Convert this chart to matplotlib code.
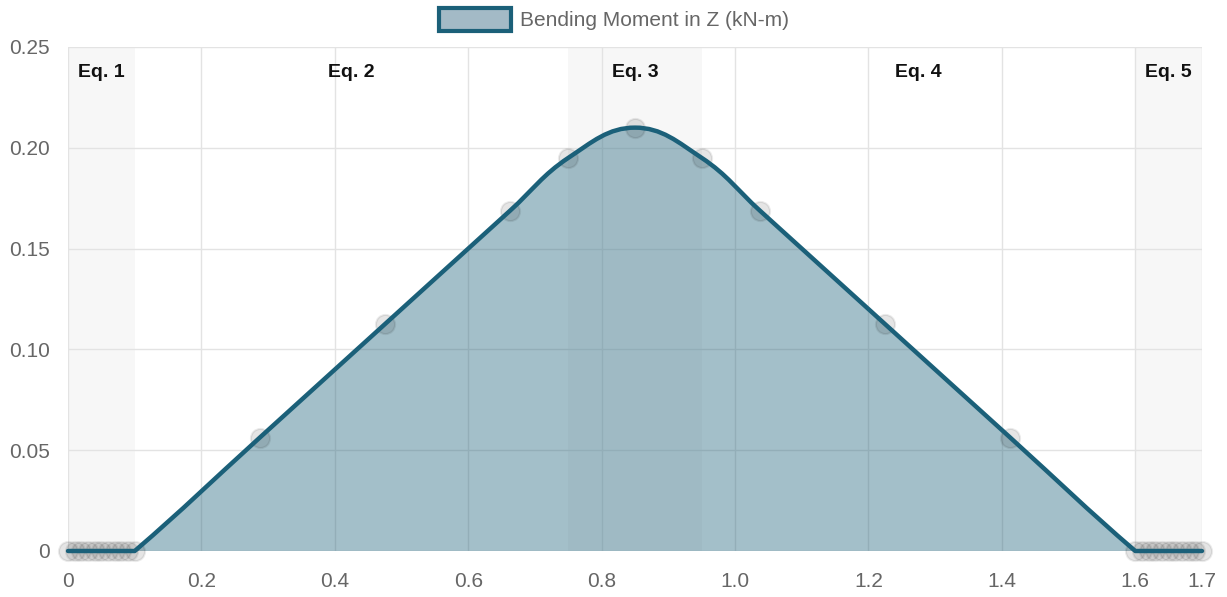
import numpy as np
import matplotlib
matplotlib.use("Agg")
import matplotlib.pyplot as plt
from matplotlib.patches import Rectangle, PathPatch
from matplotlib.path import Path

plt.rcParams['font.family'] = ['Liberation Sans', 'DejaVu Sans']

# ---- data ----
x_vals = [0.0, 0.01, 0.02, 0.03, 0.04, 0.05, 0.06, 0.07, 0.08, 0.09, 0.1,
          0.2875, 0.475, 0.6625, 0.75, 0.85, 0.95, 1.0375, 1.225, 1.4125,
          1.6, 1.61, 1.62, 1.63, 1.64, 1.65, 1.66, 1.67, 1.68, 1.69, 1.7]
moment = [0, 0, 0, 0, 0, 0, 0, 0, 0, 0, 0,
          0.05625, 0.1125, 0.16875, 0.195, 0.21, 0.195, 0.16875, 0.1125, 0.05625,
          0, 0, 0, 0, 0, 0, 0, 0, 0, 0, 0]
regions = [(0.0, 0.1), (0.1, 0.75), (0.75, 0.95), (0.95, 1.6), (1.6, 1.7)]
region_labels = ["Eq. 1", "Eq. 2", "Eq. 3", "Eq. 4", "Eq. 5"]
shaded = [True, False, True, False, True]
x_ticks = [0, 0.2, 0.4, 0.6, 0.8, 1.0, 1.2, 1.4, 1.6, 1.7]
x_tick_labels = ["0", "0.2", "0.4", "0.6", "0.8", "1.0", "1.2", "1.4", "1.6", "1.7"]
y_ticks = [0, 0.05, 0.10, 0.15, 0.20, 0.25]
y_tick_labels = ["0", "0.05", "0.10", "0.15", "0.20", "0.25"]
legend_label = "Bending Moment in Z (kN-m)"

line_color = "#1b6079"
fill_color = "#a3bac6"

W, H = 1227, 597
fig = plt.figure(figsize=(W / 100, H / 100), dpi=100)
L, R, T, B = 68, 1202, 47, 551
ax = fig.add_axes([L / W, 1 - B / H, (R - L) / W, (B - T) / H])
ax.set_xlim(0, 1.7)
ax.set_ylim(0, 0.25)

# bands
for (a, b), s in zip(regions, shaded):
    if s:
        ax.axvspan(a, b, color="#f7f7f7", zorder=0, lw=0)

# grid
for xt in x_ticks:
    ax.axvline(xt, color="#e3e3e3", lw=1, zorder=0.5)
for yt in y_ticks:
    ax.axhline(yt, color="#e3e3e3", lw=1, zorder=0.5)

# bezier spline (tension 0.4), control points computed in pixel space
sx = (R - L) / 1.7
sy = (B - T) / 0.25
px = np.array(x_vals) * sx
py = np.array(moment) * sy
n = len(px)
tension = 0.4
cps = []
for i in range(n):
    p0 = (px[max(i - 1, 0)], py[max(i - 1, 0)])
    p1 = (px[i], py[i])
    p2 = (px[min(i + 1, n - 1)], py[min(i + 1, n - 1)])
    d01 = np.hypot(p1[0] - p0[0], p1[1] - p0[1])
    d12 = np.hypot(p2[0] - p1[0], p2[1] - p1[1])
    tot = d01 + d12
    s01 = d01 / tot if tot else 0
    s12 = d12 / tot if tot else 0
    fa = tension * s01
    fb = tension * s12
    prev_cp = (p1[0] - fa * (p2[0] - p0[0]), max(0.0, p1[1] - fa * (p2[1] - p0[1])))
    next_cp = (p1[0] + fb * (p2[0] - p0[0]), max(0.0, p1[1] + fb * (p2[1] - p0[1])))
    cps.append((prev_cp, next_cp))

verts = [(x_vals[0], moment[0])]
codes = [Path.MOVETO]
for i in range(n - 1):
    c1 = cps[i][1]
    c2 = cps[i + 1][0]
    verts += [(c1[0] / sx, c1[1] / sy), (c2[0] / sx, c2[1] / sy), (x_vals[i + 1], moment[i + 1])]
    codes += [Path.CURVE4] * 3
line_path = Path(verts, codes)

fill_verts = verts + [(x_vals[-1], 0), (x_vals[0], 0), (x_vals[0], moment[0])]
fill_codes = codes + [Path.LINETO, Path.LINETO, Path.CLOSEPOLY]
ax.add_patch(PathPatch(Path(fill_verts, fill_codes), facecolor=line_color, alpha=0.4,
                       edgecolor="none", zorder=1))

# points
ax.scatter(x_vals, moment, s=190, facecolor=(0, 0, 0, 0.1), edgecolor=(0, 0, 0, 0.08),
           linewidth=1.5, zorder=2, clip_on=False)

ax.add_patch(PathPatch(line_path, facecolor="none", edgecolor=line_color, lw=3.2,
                       zorder=3, capstyle="round", joinstyle="round", clip_on=False))

# region labels
for (a, b), lab in zip(regions, region_labels):
    ax.text((a + b) / 2, 0.2375, lab, ha="center", va="center", fontsize=14,
            fontweight="bold", color="#111111", zorder=4)

ax.set_xticks(x_ticks)
ax.set_xticklabels(x_tick_labels)
ax.set_yticks(y_ticks)
ax.set_yticklabels(y_tick_labels)
ax.tick_params(axis="both", length=0, labelsize=15, colors="#666666")
ax.tick_params(axis="x", pad=15)
ax.tick_params(axis="y", pad=13)
for sp in ax.spines.values():
    sp.set_visible(False)

# legend (manual)
fig.patches.append(Rectangle((439 / W, 1 - 31 / H), 72 / W, 23 / H, transform=fig.transFigure,
                             facecolor=fill_color, edgecolor=line_color, lw=3))
fig.text(520 / W, 1 - 20 / H, legend_label, ha="left", va="center", fontsize=15,
         color="#666666")

fig.savefig("out.png", dpi=100)
